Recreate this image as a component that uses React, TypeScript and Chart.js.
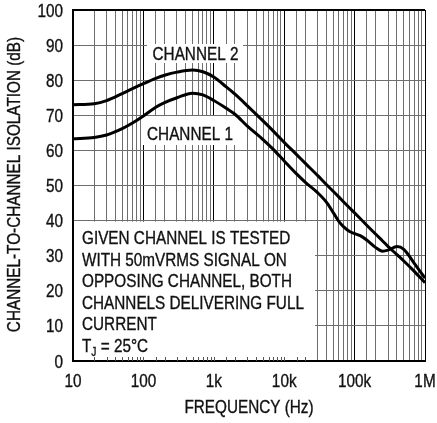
import React, { useEffect, useRef } from "react";
import { Chart, registerables } from "chart.js";

Chart.register(...registerables);

const frequencies = [10, 20, 30, 50, 70, 100, 150, 200, 300, 500, 700, 1000, 1500, 2000, 3000, 5000, 7000, 10000, 15000, 20000, 30000, 40000, 50000, 60000, 70000, 85000, 100000, 120000, 150000, 200000, 250000, 300000, 400000, 500000, 700000, 1000000];

const channel2 = [73.0, 73.3, 74.2, 76.2, 77.6, 79.0, 80.5, 81.4, 82.3, 82.9, 82.4, 80.9, 78.1, 76.0, 72.7, 68.4, 65.5, 62.3, 58.8, 56.3, 52.8, 50.2, 48.3, 46.7, 45.3, 43.6, 42.2, 40.6, 38.6, 36.1, 34.2, 32.6, 30.3, 28.5, 25.6, 22.3];

const channel1 = [63.3, 63.7, 64.4, 66.2, 67.8, 69.8, 72.3, 73.6, 75.0, 76.3, 75.8, 74.2, 72.0, 70.3, 66.9, 63.1, 60.3, 57.0, 53.3, 50.9, 47.9, 45.2, 42.2, 39.7, 38.2, 36.9, 36.3, 35.7, 34.4, 32.3, 31.3, 31.6, 32.6, 31.8, 27.9, 23.6];

const xTickLabels: Record<number, string> = { 10: "10", 100: "100", 1000: "1k", 10000: "10k", 100000: "100k", 1000000: "1M" };

const noteLines = ["GIVEN CHANNEL IS TESTED", "WITH 50mVRMS SIGNAL ON", "OPPOSING CHANNEL, BOTH", "CHANNELS DELIVERING FULL", "CURRENT"];

const FONT = "'Liberation Sans', Arial, sans-serif";
const SQUEEZE = 0.85;
const INK = "#111";

const isDecade = (v: number) => Math.abs(Math.log10(v) - Math.round(Math.log10(v))) < 1e-9;

function drawText(ctx: CanvasRenderingContext2D, text: string, x: number, y: number, align: CanvasTextAlign, size = 18, rotate = 0) {
  ctx.save();
  ctx.translate(x, y);
  if (rotate) ctx.rotate(rotate);
  ctx.scale(SQUEEZE, 1);
  ctx.font = `${size}px ${FONT}`;
  ctx.textAlign = align;
  ctx.textBaseline = "alphabetic";
  ctx.fillStyle = INK;
  ctx.strokeStyle = INK;
  ctx.lineWidth = 0.35;
  ctx.fillText(text, 0, 0);
  ctx.strokeText(text, 0, 0);
  const w = ctx.measureText(text).width * SQUEEZE;
  ctx.restore();
  return w;
}

const annotationPlugin = {
  id: "annotations",
  beforeDatasetsDraw(chart: any) {
    const { ctx, chartArea, scales } = chart;
    const x = scales.x;
    const y = scales.y;
    ctx.save();
    ctx.fillStyle = "#fff";
    ctx.fillRect(147, 44, 96, 19);
    ctx.fillRect(143, 116, 94, 29);
    const boxTop = y.getPixelForValue(40);
    ctx.fillRect(chartArea.left + 1, boxTop + 1, 315 - chartArea.left - 1, chartArea.bottom - boxTop - 2);
    ctx.strokeStyle = "#555";
    ctx.lineWidth = 1;
    for (const t of x.ticks) {
      const px = Math.round(x.getPixelForValue(t.value)) + 0.5;
      if (px > chartArea.left + 2 && px < 315) {
        ctx.beginPath();
        ctx.moveTo(px, chartArea.bottom);
        ctx.lineTo(px, chartArea.bottom - 4);
        ctx.stroke();
      }
    }
    ctx.restore();

    drawText(ctx, "CHANNEL 2", 195.5, 59.5, "center");
    drawText(ctx, "CHANNEL 1", 190, 140, "center");
    const left = 82;
    noteLines.forEach((line, i) => drawText(ctx, line, left, 244.3 + i * 21.5, "left"));
    const lastY = 244.3 + 5 * 21.5;
    let cx = left;
    cx += drawText(ctx, "T", cx, lastY, "left");
    cx += drawText(ctx, "J", cx, lastY + 4, "left", 12);
    drawText(ctx, " = 25°C", cx, lastY, "left");
  },
  afterDraw(chart: any) {
    const { ctx, chartArea, scales } = chart;
    const x = scales.x;
    const y = scales.y;
    for (const t of y.ticks) {
      const py = y.getPixelForValue(t.value);
      drawText(ctx, String(t.value), chartArea.left - 10, py + 6.5, "right");
    }
    for (const t of x.ticks) {
      const label = Object.keys(xTickLabels).find((k) => Math.abs(Number(k) - t.value) / t.value < 1e-6);
      if (label === undefined) continue;
      const px = x.getPixelForValue(t.value);
      drawText(ctx, xTickLabels[Number(label)], px, 386.7, "center");
    }
    drawText(ctx, "FREQUENCY (Hz)", (chartArea.left + chartArea.right) / 2, 413.3, "center");
    drawText(ctx, "CHANNEL-TO-CHANNEL ISOLATION (dB)", 20, 184.5, "center", 18, -Math.PI / 2);
  },
};

export default function App() {
  const canvasRef = useRef<HTMLCanvasElement | null>(null);

  useEffect(() => {
    document.body.style.margin = "0";
    const canvas = canvasRef.current;
    if (!canvas) return;
    const chart = new Chart(canvas, {
      type: "line",
      data: {
        labels: frequencies,
        datasets: [
          {
            label: "CHANNEL 2",
            data: frequencies.map((f, i) => ({ x: f, y: channel2[i] })),
            borderColor: "#000",
            borderWidth: 3,
            pointRadius: 0,
            cubicInterpolationMode: "monotone",
            fill: false,
          },
          {
            label: "CHANNEL 1",
            data: frequencies.map((f, i) => ({ x: f, y: channel1[i] })),
            borderColor: "#000",
            borderWidth: 3,
            pointRadius: 0,
            cubicInterpolationMode: "monotone",
            fill: false,
          },
        ],
      },
      options: {
        responsive: false,
        animation: false,
        devicePixelRatio: 1,
        layout: { padding: { top: 10, right: 12, left: 0, bottom: 0 } },
        plugins: { legend: { display: false }, tooltip: { enabled: false } },
        scales: {
          x: {
            type: "logarithmic",
            min: 10,
            max: 1000000,
            afterFit: (s: any) => {
              s.height = 62;
            },
            border: { color: "#000", width: 2 },
            grid: {
              drawTicks: false,
              color: (c: any) => (c.tick && isDecade(c.tick.value) ? "#000" : "#6e6e6e"),
              lineWidth: 1,
            },
            ticks: { autoSkip: false, display: false },
          },
          y: {
            min: 0,
            max: 100,
            afterFit: (s: any) => {
              s.width = 73;
            },
            border: { color: "#000", width: 2 },
            grid: {
              drawTicks: false,
              color: (c: any) => (c.tick && c.tick.value === 100 ? "#000" : "#6e6e6e"),
              lineWidth: (c: any) => (c.tick && c.tick.value === 100 ? 2 : 1),
            },
            ticks: { stepSize: 10, display: false },
          },
        },
      },
      plugins: [annotationPlugin],
    } as any);
    return () => chart.destroy();
  }, []);

  return (
    <div style={{ position: "absolute", left: 0, top: 0, width: 437, height: 423, background: "#fff" }}>
      <canvas ref={canvasRef} width={437} height={423} style={{ width: 437, height: 423 }} />
    </div>
  );
}
